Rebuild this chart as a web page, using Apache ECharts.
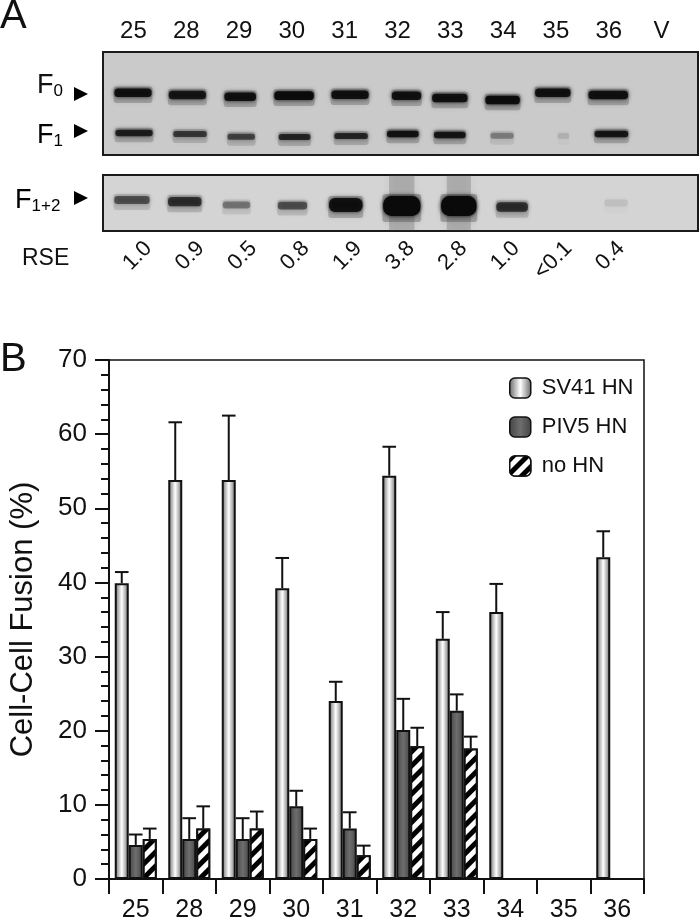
<!DOCTYPE html>
<html><head><meta charset="utf-8">
<style>html,body{margin:0;padding:0;background:#fff}#c{width:700px;height:923px}</style>
<script src="https://cdn.jsdelivr.net/npm/echarts@6/dist/echarts.min.js"></script>
</head><body><div id="c"></div>
<script>
const FONT = '"Liberation Sans", Arial, sans-serif';
// Panel B
const mutants = ['25','28','29','30','31','32','33','34','35','36'];
const sv41 = [39.9,53.8,53.8,39.2,24.0,54.4,32.4,36.0,null,43.4];
const sv41Err = [1.5,7.8,8.7,4.1,2.6,3.9,3.6,3.8,null,3.5];
const piv5 = [4.6,5.4,5.4,9.8,6.8,20.1,22.7,null,null,null];
const piv5Err = [1.4,2.8,2.8,2.1,2.2,4.2,2.2,null,null,null];
const noHN = [5.4,6.8,6.8,5.4,3.2,17.9,17.6,null,null,null];
const noHNErr = [1.4,3.0,2.3,1.4,1.3,2.5,1.6,null,null,null];
// Panel A
const lanes = ['25','28','29','30','31','32','33','34','35','36','V'];
const rse = ['1.0','0.9','0.5','0.8','1.9','3.8','2.8','1.0','<0.1','0.4',''];
const f0Lane = [0,1.03,2.03,3.05,4.11,5.18,6.0,7.0,7.95,9.0];
const f0Depth = [40.7,43,44.7,43.7,42.7,43.7,46,48,40.7,43];
const f0Span = [0.8,0.8,0.68,0.85,0.8,0.63,0.76,0.74,0.76,0.85];
const f0Signal = [0.85,0.8,0.85,0.9,0.85,0.85,0.85,0.9,0.85,0.85];
const f1Lane = [0.02,1.08,2.05,3.06,4.13,5.11,6.0,6.99,8.15,9.06];
const f1Depth = [81,82,84.7,85,84,82,83,83.7,84,82];
const f1Span = [0.8,0.72,0.59,0.68,0.72,0.68,0.68,0.5,0.25,0.72];
const f1Signal = [0.75,0.6,0.55,0.7,0.7,0.85,0.8,0.3,0.1,0.8];
const f12Lane = [-0.02,0.98,1.96,3.02,4.03,5.09,6.17,7.18,9.15];
const f12Depth = [25,26.7,30,30.7,30,31,31,32,28];
const f12Span = [0.76,0.72,0.59,0.63,0.72,0.8,0.76,0.68,0.5];
const f12Signal = [0.5,0.65,0.35,0.5,0.85,1,1,0.65,0.08];

const rows = (l,d,s,i)=>l.map((v,k)=>[v,d[k],s[k],i[k]]);
const band = (minH,maxH) => (params, api) => {
  const sig = api.value(3);
  const c = api.coord([api.value(0), api.value(1)]);
  const w = api.size([api.value(2),0])[0];
  const h = minH + (maxH-minH)*Math.pow(sig,4);
  const a = Math.min(1, sig*1.05);
  const kids = [];
  // faint trailing smear above/below the band
  kids.push({type:'rect',shape:{x:c[0]-w*0.46,y:c[1]-h*0.5-2,width:w*0.92,height:h+8,r:3},
    style:{fill:'rgba(40,40,40,'+(a*0.28)+')',shadowBlur:5,shadowColor:'rgba(40,40,40,'+(a*0.3)+')'}});
  if (sig>0.9) kids.push({type:'rect',shape:{x:c[0]-w*0.3,y:c[1]-45,width:w*0.6,height:90},
    style:{fill:'rgba(60,60,60,0.22)',shadowBlur:8,shadowColor:'rgba(60,60,60,0.3)'}});
  kids.push({type:'rect',shape:{x:c[0]-w*0.44,y:c[1]-h/2,width:w*0.88,height:h,r:h/2.4},
    style:{fill:'rgba(10,10,10,'+a+')',shadowBlur:4,shadowColor:'rgba(10,10,10,'+a+')'}});
  return {type:'group',children:kids};
};
const errBar = idx => (params, api) => {
  const v = api.value(1), e = api.value(2);
  const band = api.size([1,0])[0];
  const off = (idx-1)*14;
  const b = api.coord([api.value(0), v]);
  const t = api.coord([api.value(0), v+e]);
  const x = b[0]+off;
  const st = {stroke:'#111',lineWidth:2,fill:null};
  return {type:'group',children:[
    {type:'line',shape:{x1:x,y1:b[1],x2:x,y2:t[1]},style:st},
    {type:'line',shape:{x1:x-6.8,y1:t[1],x2:x+6.8,y2:t[1]},style:st}
  ]};
};
const errData = (v,e)=>v.map((x,i)=>x==null?null:[i,x,e[i]]).filter(Boolean);
const gradSV = {type:'linear',x:0,y:0,x2:1,y2:0,colorStops:[{offset:0,color:'#666'},{offset:0.5,color:'#fff'},{offset:1,color:'#666'}]};
const gradPIV = {type:'linear',x:0,y:0,x2:1,y2:0,colorStops:[{offset:0,color:'#444'},{offset:0.5,color:'#6e6e6e'},{offset:1,color:'#444'}]};
const hide = {show:false};
const ax = (o)=>Object.assign({axisLine:hide,axisTick:hide,axisLabel:hide,splitLine:hide},o);
const tri = (y)=>({type:'polygon',shape:{points:[[74,y-7],[88,y],[74,y+7]]},style:{fill:'#000'}});
const chart = echarts.init(document.getElementById('c'),null,{renderer:'canvas'});
chart.setOption({
  animation:false,
  backgroundColor:'#fff',
  textStyle:{fontFamily:FONT,color:'#111'},
  grid:[
    {left:103,top:52,width:595,height:103,show:true,backgroundColor:'#cacaca',borderColor:'#1a1a1a',borderWidth:2},
    {left:103,top:175,width:595,height:56,show:true,backgroundColor:'#d4d4d4',borderColor:'#1a1a1a',borderWidth:2},
    {left:107,top:52,width:581,height:180},
    {left:122,top:52,width:581,height:180},
    {left:103,top:360,width:541,height:524,show:true,backgroundColor:'transparent',borderColor:'#111',borderWidth:1.5}
  ],
  xAxis:[
    ax({gridIndex:0,type:'value',min:-0.568,max:10.7}),
    ax({gridIndex:1,type:'value',min:-0.568,max:10.7}),
    ax({gridIndex:2,type:'category',position:'top',data:lanes,axisLabel:{show:true,interval:0,fontSize:24,color:'#111',margin:9}}),
    ax({gridIndex:3,type:'category',position:'bottom',data:rse,axisLabel:{show:true,interval:0,fontSize:22,color:'#111',rotate:45,align:'right',verticalAlign:'middle',margin:13}}),
    {gridIndex:4,type:'category',data:mutants,
      axisLine:{lineStyle:{color:'#111',width:2}},
      axisTick:{show:true,alignWithLabel:false,length:15,lineStyle:{color:'#111',width:2}},
      axisLabel:{interval:0,fontSize:25,color:'#111',margin:19},splitLine:hide}
  ],
  yAxis:[
    ax({gridIndex:0,type:'value',min:0,max:103,inverse:true}),
    ax({gridIndex:1,type:'value',min:0,max:56,inverse:true}),
    ax({gridIndex:2,type:'value',min:0,max:1}),
    ax({gridIndex:3,type:'value',min:0,max:1}),
    {gridIndex:4,type:'value',min:0,max:70,interval:10,
      name:'Cell-Cell Fusion (%)',nameLocation:'middle',nameRotate:90,nameGap:70,
      nameTextStyle:{fontSize:31,color:'#111',fontFamily:FONT},
      axisLine:{show:true,lineStyle:{color:'#111',width:2}},
      axisTick:{show:true,length:14,lineStyle:{color:'#111',width:2}},
      minorTick:{show:true,splitNumber:5,length:8,lineStyle:{color:'#111',width:2}},
      axisLabel:{fontSize:26,color:'#111',margin:22},splitLine:hide}
  ],
  legend:{left:504,top:372,orient:'vertical',itemWidth:21,itemHeight:20,itemGap:17,
    data:['SV41 HN','PIV5 HN','no HN'],
    textStyle:{fontSize:22,color:'#111',fontFamily:FONT,padding:[0,0,0,6]},
    itemStyle:{borderColor:'#111',borderWidth:1.5}},
  series:[
    {type:'custom',name:'F0',xAxisIndex:0,yAxisIndex:0,clip:true,renderItem:band(8,9),data:rows(f0Lane,f0Depth,f0Span,f0Signal),silent:true},
    {type:'custom',name:'F1',xAxisIndex:0,yAxisIndex:0,clip:true,renderItem:band(6,7),data:rows(f1Lane,f1Depth,f1Span,f1Signal),silent:true},
    {type:'custom',name:'F1+2',xAxisIndex:1,yAxisIndex:1,clip:true,renderItem:band(7,20),data:rows(f12Lane,f12Depth,f12Span,f12Signal),silent:true},
    {type:'custom',name:'e1',xAxisIndex:4,yAxisIndex:4,renderItem:errBar(0),data:errData(sv41,sv41Err),z:1},
    {type:'custom',name:'e2',xAxisIndex:4,yAxisIndex:4,renderItem:errBar(1),data:errData(piv5,piv5Err),z:1},
    {type:'custom',name:'e3',xAxisIndex:4,yAxisIndex:4,renderItem:errBar(2),data:errData(noHN,noHNErr),z:1},
    {type:'bar',name:'SV41 HN',xAxisIndex:4,yAxisIndex:4,data:sv41,barWidth:14,barGap:'0%',z:3,
      itemStyle:{color:gradSV,borderColor:'#111',borderWidth:2}},
    {type:'bar',name:'PIV5 HN',xAxisIndex:4,yAxisIndex:4,data:piv5,barWidth:14,z:3,
      itemStyle:{color:gradPIV,borderColor:'#111',borderWidth:2}},
    {type:'bar',name:'no HN',xAxisIndex:4,yAxisIndex:4,data:noHN,barWidth:14,z:3,
      itemStyle:{color:'#fff',borderColor:'#111',borderWidth:2,
        decal:{symbol:'rect',color:'#000',backgroundColor:'#fff',dashArrayX:[1,0],dashArrayY:[5,5],rotation:-Math.PI/4}}}
  ],
  graphic:[
    {type:'text',left:0,top:-3,style:{text:'A',font:'40px '+FONT,fill:'#111'}},
    {type:'text',left:0,top:340,style:{text:'B',font:'40px '+FONT,fill:'#111'}},
    {type:'text',left:22,top:247,style:{text:'RSE',font:'23px '+FONT,fill:'#111'}},
    {type:'text',left:37,top:72,style:{text:'{a|F}{b|0}',rich:{a:{fontSize:27,fontFamily:FONT,fill:'#111',color:'#111'},b:{fontSize:17,fontFamily:FONT,color:'#111',verticalAlign:'bottom',padding:[12,0,0,0]}}}},
    {type:'text',left:37,top:122,style:{text:'{a|F}{b|1}',rich:{a:{fontSize:27,fontFamily:FONT,color:'#111'},b:{fontSize:17,fontFamily:FONT,color:'#111',verticalAlign:'bottom',padding:[12,0,0,0]}}}},
    {type:'text',left:15,top:187,style:{text:'{a|F}{b|1+2}',rich:{a:{fontSize:27,fontFamily:FONT,color:'#111'},b:{fontSize:17,fontFamily:FONT,color:'#111',verticalAlign:'bottom',padding:[12,0,0,0]}}}},
    tri(94),tri(131),tri(198)
  ]
});
</script></body></html>
